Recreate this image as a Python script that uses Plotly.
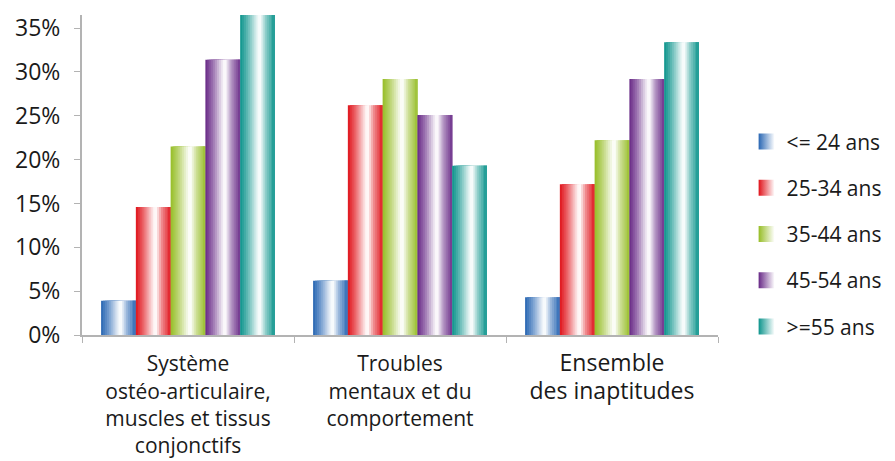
import plotly.graph_objects as go

# data (percent)
categories = [
    "Système<br>ostéo-articulaire,<br>muscles et tissus<br>conjonctifs",
    "Troubles<br>mentaux et du<br>comportement",
    "<span style='font-size:23px'>Ensemble<br>des inaptitudes</span>",
]
series_names = ["<= 24 ans", "25-34 ans", "35-44 ans", "45-54 ans", ">=55 ans"]
age_24 = [3.9, 6.2, 4.3]
age_25_34 = [14.6, 26.2, 17.2]
age_35_44 = [21.5, 29.2, 22.2]
age_45_54 = [31.4, 25.1, 29.2]
age_55 = [37.5, 19.3, 33.4]
series_values = [age_24, age_25_34, age_35_44, age_45_54, age_55]
y_ticks = [0, 5, 10, 15, 20, 25, 30, 35]

colors = ["#2866b3", "#e0121a", "#96bd25", "#672886", "#0c948c"]

# horizontal "shine" profile for the bars: (position across bar, whiteness)
profile = [(0.0, 0.0), (0.08, 0.13), (0.2, 0.32), (0.32, 0.55), (0.44, 0.8),
           (0.52, 0.95), (0.57, 1.0), (0.63, 0.84), (0.74, 0.52),
           (0.86, 0.3), (0.94, 0.16), (1.0, 0.06)]


def whiteness(t):
    for (t0, w0), (t1, w1) in zip(profile[:-1], profile[1:]):
        if t0 <= t <= t1:
            return w0 + (w1 - w0) * (t - t0) / (t1 - t0)
    return profile[-1][1]


def mix(hex_color, w):
    r, g, b = (int(hex_color[i:i + 2], 16) for i in (1, 3, 5))
    r, g, b = (round(c + (255 - c) * w) for c in (r, g, b))
    return "rgb({},{},{})".format(r, g, b)


group_width = 0.82
bar_width = group_width / len(series_names)
n_strips = 18

fig = go.Figure()
for i, (name, vals, col) in enumerate(zip(series_names, series_values, colors)):
    bar_left = -group_width / 2 + i * bar_width
    for k in range(n_strips):
        start = bar_left + k * bar_width / n_strips
        t = (k + 0.5) / n_strips
        fig.add_trace(go.Bar(
            x=categories, y=vals,
            offset=start, width=bar_width - k * bar_width / n_strips,
            marker=dict(color=mix(col, whiteness(t)), line=dict(width=0)),
            showlegend=False, hoverinfo="skip",
        ))
    # legend entry
    fig.add_trace(go.Scatter(
        x=[None], y=[None], name=name, legendgroup=name, mode="markers",
        marker=dict(symbol="square", size=20, color=col,
                    gradient=dict(type="horizontal", color="white")),
    ))

fig.update_layout(
    width=887, height=453,
    barmode="overlay",
    plot_bgcolor="white", paper_bgcolor="white",
    font=dict(family="Open Sans, Lato, sans-serif", size=21, color="#1a1a1a"),
    margin=dict(l=74, r=177, t=7, b=126),
    legend=dict(x=1.045, y=0.668, xanchor="left", yanchor="top",
                font=dict(size=21), tracegroupgap=16, traceorder="grouped"),
    xaxis=dict(showline=True, linecolor="#b3b3b3", linewidth=2,
               ticks="outside", tickson="boundaries", ticklen=6,
               tickcolor="#b3b3b3", tickfont=dict(size=21), showgrid=False,
               ticklabelstandoff=9, automargin=False),
    yaxis=dict(range=[0, 36.5], tickvals=y_ticks,
               ticktext=["{}%".format(v) for v in y_ticks],
               showline=True, linecolor="#b3b3b3", linewidth=2,
               ticks="outside", ticklen=6, tickcolor="#b3b3b3",
               tickfont=dict(size=23), showgrid=False, zeroline=False,
               ticklabelstandoff=9, automargin=False),
)

fig.write_html("out.html")
